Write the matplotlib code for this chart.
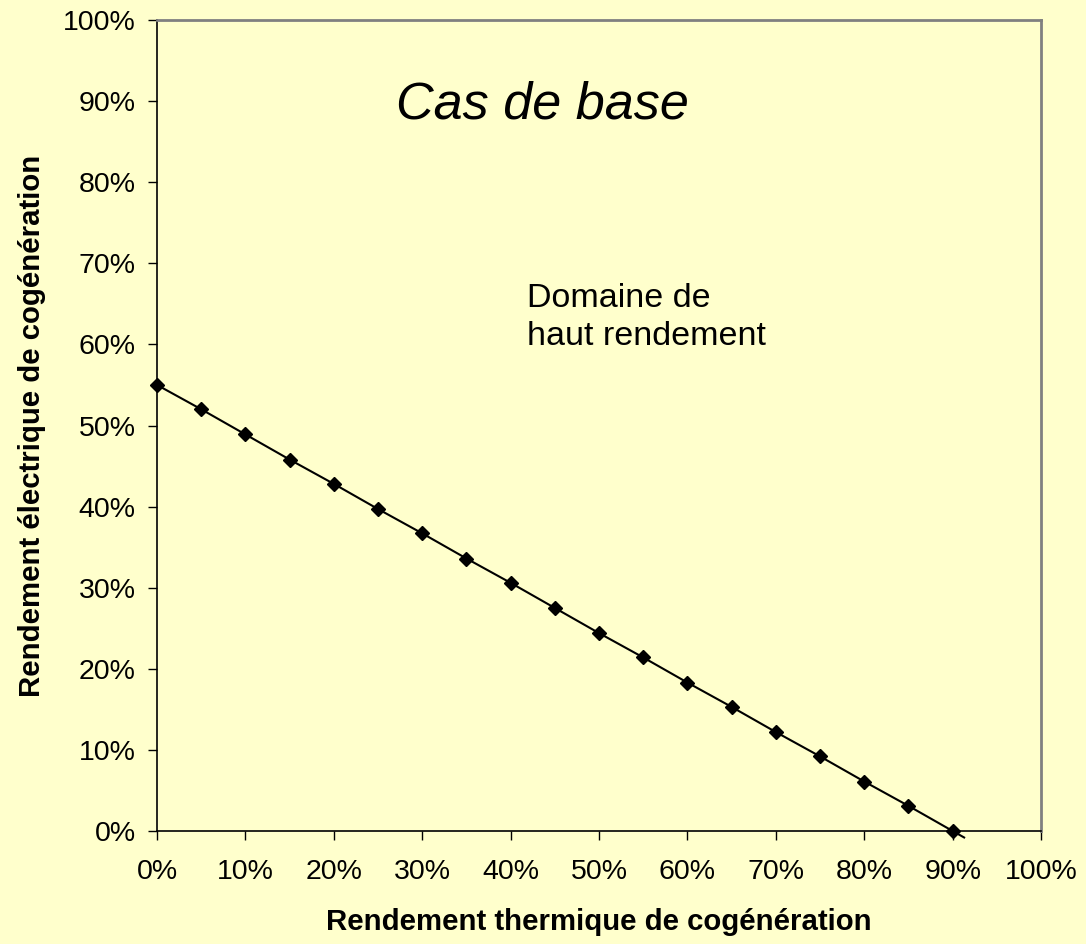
import matplotlib.pyplot as plt
from matplotlib.ticker import PercentFormatter

# Données (rendements en %)
rendement_thermique = [0, 5, 10, 15, 20, 25, 30, 35, 40, 45, 50, 55, 60, 65, 70, 75, 80, 85, 90, 91.3]
rendement_electrique = [55, 52, 48.9, 45.8, 42.8, 39.7, 36.7, 33.6, 30.6, 27.5, 24.4, 21.4, 18.3, 15.3, 12.2, 9.2, 6.1, 3.1, 0, -0.8]
# le dernier point n'a pas de marqueur (prolongement de la droite)
nb_marqueurs = 19

fond = '#FFFFCC'
plt.rcParams['font.family'] = ['Liberation Sans', 'DejaVu Sans']

fig = plt.figure(figsize=(10.86, 9.44), dpi=100, facecolor=fond)
ax = fig.add_axes([0.1446, 0.1197, 0.8140, 0.8591])
ax.set_facecolor(fond)

ax.plot(rendement_thermique, rendement_electrique, color='black', linewidth=1.5,
        marker='D', markersize=7.5, markevery=list(range(nb_marqueurs)), clip_on=False, zorder=3)

ax.set_xlim(0, 100)
ax.set_ylim(0, 100)
ax.set_xticks(range(0, 101, 10))
ax.set_yticks(range(0, 101, 10))
ax.xaxis.set_major_formatter(PercentFormatter(decimals=0))
ax.yaxis.set_major_formatter(PercentFormatter(decimals=0))
ax.tick_params(axis='both', direction='out', length=6.5, width=1, labelsize=20.5)
ax.tick_params(axis='x', pad=14)
ax.tick_params(axis='y', pad=9)

for cote in ['left', 'bottom']:
    ax.spines[cote].set_color('black')
    ax.spines[cote].set_linewidth(1.2)
for cote in ['top', 'right']:
    ax.spines[cote].set_color('#808080')
    ax.spines[cote].set_linewidth(2)

ax.set_xlabel('Rendement thermique de cogénération', fontsize=21.2, fontweight='bold', labelpad=16)
ax.set_ylabel('Rendement électrique de cogénération', fontsize=21.2, fontweight='bold', labelpad=12)

ax.text(43.6, 89.5, 'Cas de base', fontsize=37.5, fontstyle='italic', ha='center', va='center')
ax.text(41.9, 63.3, 'Domaine de\nhaut rendement', fontsize=24.5, ha='left', va='center', linespacing=1.32)

plt.savefig('out.png', dpi=100, facecolor=fond)
